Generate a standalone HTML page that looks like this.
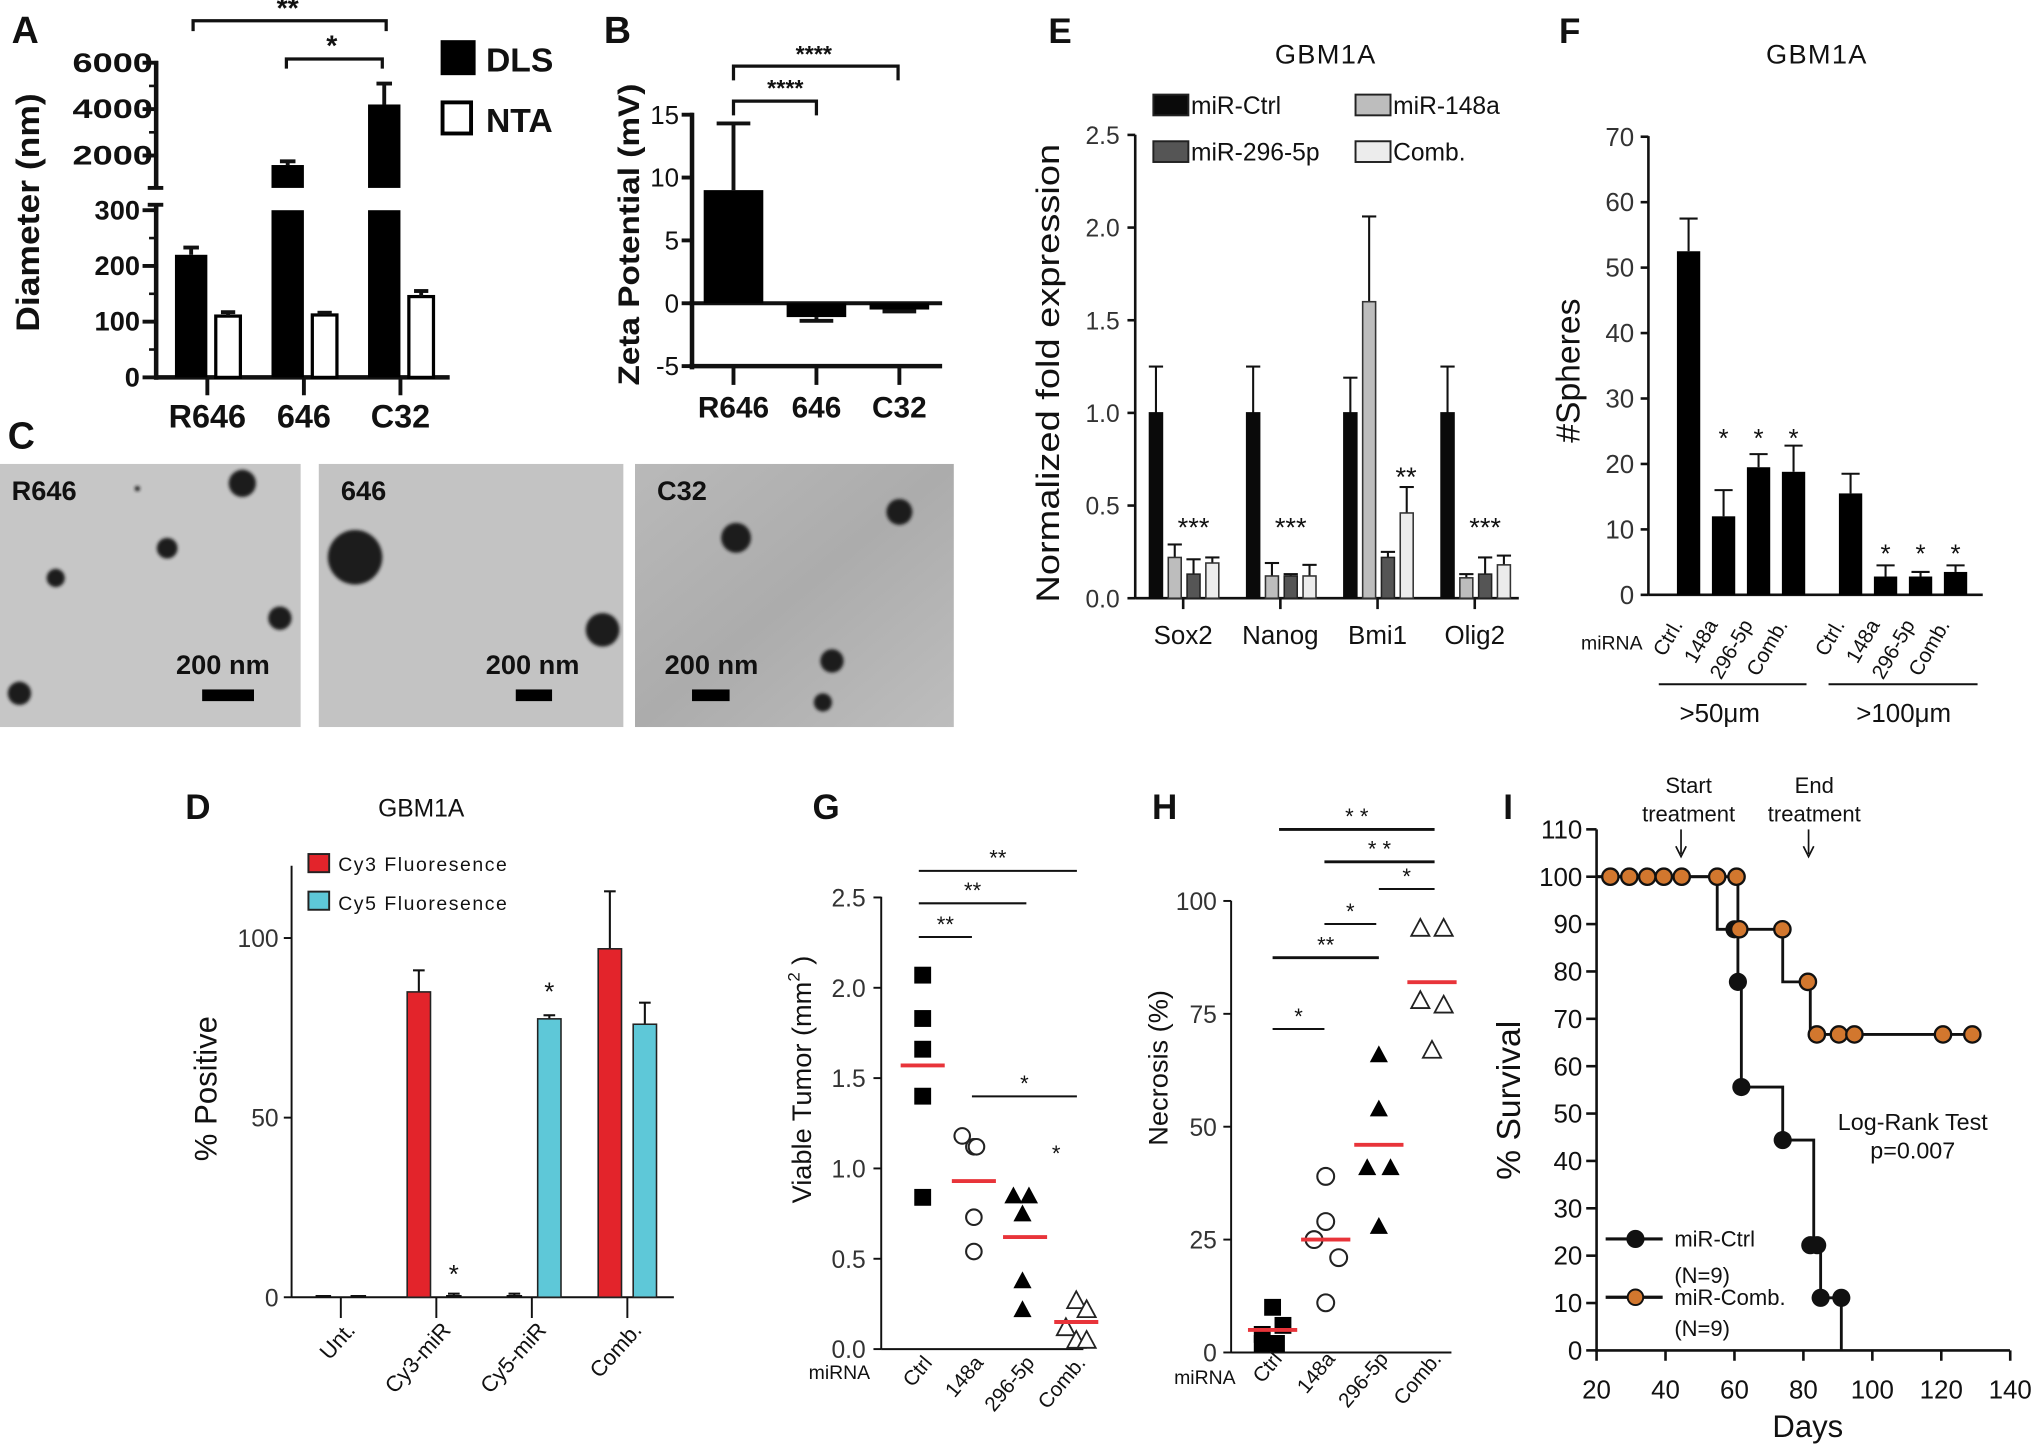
<!DOCTYPE html>
<html><head><meta charset="utf-8"><style>
html,body{margin:0;padding:0;background:#fff;}
svg{display:block;}
text{font-family:"Liberation Sans",Arial,sans-serif;fill:#111;}
</style></head>
<body>
<svg id="fig" width="2032" height="1445" viewBox="0 0 1568 1115" preserveAspectRatio="none" xmlns="http://www.w3.org/2000/svg">
<defs>
<filter id="soft" x="-50%" y="-50%" width="200%" height="200%"><feGaussianBlur stdDeviation="1.2"/></filter>
<linearGradient id="tem3" x1="0" y1="0" x2="1" y2="1"><stop offset="0" stop-color="#b9b9b9"/><stop offset="0.5" stop-color="#acacac"/><stop offset="1" stop-color="#bdbdbd"/></linearGradient>
</defs>
</svg>
<script>
// ---------- DATA ----------
const catsA = ['R646','646','C32'];
const dlsVals = [220,1590,4200];
const dlsErr = [233,1750,5100];
const ntaVals = [110,112,145];
const ntaErr = [117,116,155];

const catsB = ['R646','646','C32'];
const zetaVals = [9.0,-1.1,-0.5];
const zetaErr = [14.3,-1.4,-0.65];

const genesE = ['Sox2','Nanog','Bmi1','Olig2'];
const seriesE = ['miR-Ctrl','miR-148a','miR-296-5p','Comb.'];
const ctrlE = [1.0,1.0,1.0,1.0];
const ctrlEErr = [1.25,1.25,1.19,1.25];
const m148E = [0.22,0.12,1.6,0.11];
const m148EErr = [0.29,0.19,2.06,0.13];
const m296E = [0.13,0.12,0.22,0.13];
const m296EErr = [0.21,0.13,0.25,0.22];
const combE = [0.19,0.12,0.46,0.18];
const combEErr = [0.22,0.18,0.60,0.23];

const catsF = ['Ctrl.','148a','296-5p','Comb.','Ctrl.','148a','296-5p','Comb.'];
const spheres = [52.5,12,19.5,18.8,15.5,2.8,2.8,3.5];
const spheresErr = [57.5,16,21.5,22.8,18.5,4.5,3.5,4.5];

const catsD = ['Unt.','Cy3-miR','Cy5-miR','Comb.'];
const cy3Vals = [0,85,0,97];
const cy3Err = [0,91,1,113];
const cy5Vals = [0,0,77.5,76];
const cy5Err = [0,1,78.5,82];

const catsG = ['Ctrl','148a','296-5p','Comb.'];
const tumorCtrl = [2.07,1.83,1.66,1.40,0.84];
const tumor148 = [1.18,1.12,1.12,0.73,0.54];
const tumor296 = [0.85,0.85,0.75,0.38,0.22];
const tumorComb = [0.27,0.22,0.12,0.05,0.05];
const tumorMeans = [1.57,0.93,0.62,0.15];

const catsH = ['Ctrl','148a','296-5p','Comb.'];
const necCtrl = [10,6,4,2,2];
const nec148 = [39,29,25,21,11];
const nec296 = [66,54,41,41,28];
const necComb = [94,94,78,77,67];
const necMeans = [5,25,46,82];

const ctrlStepDays = [20,55,61,62,74,83,85,91];
const ctrlStepSurv = [100,88.9,77.8,55.6,44.4,22.2,11.1,0];
const ctrlDotDays = [60,61,62,74,82,84,85,91];
const ctrlDotSurv = [88.9,77.8,55.6,44.4,22.2,22.2,11.1,11.1];
const combStepDays = [20,61,74,82,129];
const combStepSurv = [100,88.9,77.8,66.7,66.7];
const combDotDays = [24,29.5,34.7,39.5,44.7,55,60.6,61.4,73.9,81.3,83.9,90.3,94.8,120.5,129];
const combDotSurv = [100,100,100,100,100,100,100,88.9,88.9,77.8,66.7,66.7,66.7,66.7,66.7];

// ---------- HELPERS ----------
const NS='http://www.w3.org/2000/svg';
const svg=document.getElementById('fig');
function add(parent,tag,attrs,name,text){
  const el=document.createElementNS(NS,tag);
  for(const k in attrs) el.setAttribute(k,attrs[k]);
  
  
  if(text!==undefined) el.textContent=text;
  parent.appendChild(el);
  return el;
}
function grp(name){return add(svg,'g',{},name);}
function line(p,x1,y1,x2,y2,w,name,col){return add(p,'line',{x1,y1,x2,y2,stroke:col||'#111','stroke-width':w},name);}
function txt(p,x,y,s,size,name,o){
  o=o||{};
  const a={x,y,'font-size':size,'text-anchor':o.anchor||'start'};
  if(o.bold)a['font-weight']='bold';
  if(o.rot!==undefined)a.transform='rotate('+o.rot+' '+x+' '+y+')';
  if(o.len)a.textLength=o.len,a.lengthAdjust='spacingAndGlyphs';
  if(o.fill)a.style='fill:'+o.fill;
  if(o.ls)a['letter-spacing']=o.ls;
  return add(p,'text',a,name,s);
}
function rect(p,x,y,w,h,fill,name,stroke,sw){
  const a={x,y:Math.min(y,y+h),width:w,height:Math.abs(h),fill};
  if(stroke){a.stroke=stroke;a['stroke-width']=sw||1;}
  return add(p,'rect',a,name);
}
function errbar(p,x,y0,y1,cap,w,name){
  const g=add(p,'g',{},name);
  line(g,x,y0,x,y1,w,'error-line');
  line(g,x-cap/2,y1,x+cap/2,y1,w,'error-cap');
}

// ---------- PANEL A ----------
(function(){
const g=grp('panel-a');
txt(g,9,33,'A',29,'panel-label-a',{bold:true});
const yLow=v=>291.2-v*0.43;
const yUp=v=>120-(v-2000)*0.0179;
const breakY=145, topLow=162.2;
const xA=i=>160+i*74.5;
line(g,120.5,293,120.5,158,3.5,'y-axis-lower');
line(g,120.5,145,120.5,47,3.5,'y-axis-upper');
line(g,114,145,126,145,3,'axis-break-top');
line(g,114,158,126,158,3,'axis-break-bottom');
[0,100,200,300].forEach(v=>{line(g,110,yLow(v),122,yLow(v),3,'y-tick');txt(g,108,yLow(v)+7,String(v),21,'y-tick-label',{anchor:'end',bold:true});});
[50,150,250].forEach(v=>line(g,115,yLow(v),121,yLow(v),2,'y-minor-tick'));
[2000,4000,6000].forEach(v=>{line(g,110,yUp(v),122,yUp(v),3,'y-tick');txt(g,118,yUp(v)+7,String(v),21,'y-tick-label',{anchor:'end',bold:true,len:62});});
[3000,5000].forEach(v=>line(g,115,yUp(v),121,yUp(v),2,'y-minor-tick'));
line(g,119,291.2,347,291.2,3.5,'x-axis');
catsA.forEach((c,i)=>{
  const x=xA(i);
  line(g,x,291,x,305,3,'x-tick');
  txt(g,x,330,c,25,'x-tick-label',{anchor:'middle',bold:true});
  const v=dlsVals[i],e=dlsErr[i];
  if(v<=300){
    rect(g,x-25,yLow(v),25,291.2-yLow(v),'#000','bar-dls-'+c);
    errbar(g,x-12.5,yLow(v),yLow(e),12,3,'error-dls-'+c);
  } else {
    rect(g,x-25,topLow,25,291.2-topLow,'#000','bar-dls-lower-'+c);
    rect(g,x-25,yUp(v),25,breakY-yUp(v),'#000','bar-dls-upper-'+c);
    errbar(g,x-12.5,yUp(v),yUp(e),12,3,'error-dls-'+c);
  }
  const n=ntaVals[i];
  rect(g,x+6.5,yLow(n),19,291.2-yLow(n),'#fff','bar-nta-'+c,'#000',2.5);
  errbar(g,x+16,yLow(n),yLow(ntaErr[i]),11,3,'error-nta-'+c);
});
const s1=add(g,'g',{},'sig-bracket-r646-c32');
add(s1,'path',{d:'M149 24 V16 H298 V24',fill:'none',stroke:'#111','stroke-width':2.5},'bracket');
txt(s1,222,14,'**',22,'sig-label',{anchor:'middle',bold:true});
const s2=add(g,'g',{},'sig-bracket-646-c32');
add(s2,'path',{d:'M221 53 V45.5 H295 V53',fill:'none',stroke:'#111','stroke-width':2.5},'bracket');
txt(s2,256,43,'*',22,'sig-label',{anchor:'middle',bold:true});
txt(g,30,164,'Diameter (nm)',25,'y-axis-title',{anchor:'middle',bold:true,rot:-90,len:184});
const l1=add(g,'g',{},'legend-entry-dls');
rect(l1,340,31,27,27,'#000','legend-swatch-dls');
txt(l1,375,55,'DLS',26,'legend-label-dls',{bold:true});
const l2=add(g,'g',{},'legend-entry-nta');
rect(l2,341.5,79,22,24,'#fff','legend-swatch-nta','#000',3);
txt(l2,375,102,'NTA',26,'legend-label-nta',{bold:true});
})();

// ---------- PANEL B ----------
(function(){
const g=grp('panel-b');
txt(g,466,33,'B',29,'panel-label-b',{bold:true});
const yB=v=>234-v*9.7;
const xB=i=>566+i*64;
line(g,534,87,534,285,3.5,'y-axis');
[15,10,5,0,-5].forEach(v=>{line(g,526,yB(v),535,yB(v),3,'y-tick');txt(g,524,yB(v)+7,String(v),20,'y-tick-label',{anchor:'end'});});
line(g,532,yB(0),727,yB(0),3,'zero-line');
line(g,532,yB(-5),727,yB(-5),3.5,'x-axis');
catsB.forEach((c,i)=>{
  const x=xB(i);
  line(g,x,yB(-5),x,297,3,'x-tick');
  txt(g,x,322,c,23,'x-tick-label',{anchor:'middle',bold:true});
  const v=zetaVals[i];
  rect(g,x-23,yB(v),46,yB(0)-yB(v),'#000','bar-zeta-'+c);
  errbar(g,x,yB(v),yB(zetaErr[i]),26,3,'error-zeta-'+c);
});
const s1=add(g,'g',{},'sig-bracket-r646-c32');
add(s1,'path',{d:'M566 62 V51 H693 V62',fill:'none',stroke:'#111','stroke-width':2.5},'bracket');
txt(s1,628,48,'****',18,'sig-label',{anchor:'middle',bold:true});
const s2=add(g,'g',{},'sig-bracket-r646-646');
add(s2,'path',{d:'M566 89 V78 H630 V89',fill:'none',stroke:'#111','stroke-width':2.5},'bracket');
txt(s2,606,74,'****',18,'sig-label',{anchor:'middle',bold:true});
txt(g,493,181,'Zeta Potential (mV)',23,'y-axis-title',{anchor:'middle',bold:true,rot:-90,len:233});
})();

// ---------- PANEL C ----------
(function(){
const g=grp('panel-c');
txt(g,6,346,'C',29,'panel-label-c',{bold:true});
const imgs=[
 {x:0,w:232,fill:'#c6c6c6',label:'R646',dots:[[187,373,10.5],[129,423,8],[43,446,7],[216,477,9],[15,535,9],[106,377,2]],bar:[156,196],tx:172},
 {x:246,w:235,fill:'#c3c3c3',label:'646',dots:[[274,430,21],[465,486,13]],bar:[398,426],tx:411},
 {x:490,w:246,fill:'url(#tem3)',label:'C32',dots:[[568,415,11.5],[694,395,10],[642,510,9],[635,542,7]],bar:[534,563],tx:549}
];
imgs.forEach((m,i)=>{
  const ig=add(g,'g',{},'tem-image-'+m.label);
  rect(ig,m.x,358,m.w,203,m.fill,'tem-background');
  m.dots.forEach(d=>add(ig,'circle',{cx:d[0],cy:d[1],r:d[2],fill:'#1a1a1a',filter:'url(#soft)'},'nanoparticle'));
  txt(ig,m.x+(i==0?9:i==1?17:17),386,m.label,21,'tem-label',{bold:true});
  txt(ig,m.tx,520,'200 nm',21,'scale-bar-label',{anchor:'middle',bold:true});
  rect(ig,m.bar[0],532,m.bar[1]-m.bar[0],9,'#000','scale-bar');
});
})();

// ---------- PANEL E ----------
(function(){
const g=grp('panel-e');
txt(g,809,33,'E',27,'panel-label-e',{bold:true});
txt(g,1023,49,'GBM1A',21,'chart-title-e',{anchor:'middle',ls:1});
const yE=v=>461.6-v*143;
const xE=gi=>913+gi*75;
line(g,876,104,876,462,2,'y-axis');
[0,0.5,1,1.5,2,2.5].forEach(v=>{line(g,870,yE(v),876,yE(v),2,'y-tick');txt(g,864,yE(v)+7,v.toFixed(1),19,'y-tick-label',{anchor:'end',fill:'#333'});});
line(g,876,461.6,1172,461.6,2,'x-axis');
const series=[[ctrlE,ctrlEErr,'#0a0a0a','#0a0a0a'],[m148E,m148EErr,'#bdbdbd','#333'],[m296E,m296EErr,'#555','#222'],[combE,combEErr,'#ececec','#333']];
const offs=[-21,-6.5,8,22.5];
genesE.forEach((gn,gi)=>{
  const c=xE(gi);
  line(g,c,461.6,c,470,2,'x-tick');
  txt(g,c,497,gn,20,'x-tick-label',{anchor:'middle'});
  series.forEach((s,si)=>{
    const x=c+offs[si];
    errbar(g,x,yE(s[0][gi]),yE(s[1][gi]),11,1.6,'error-'+seriesE[si]+'-'+gn);
    rect(g,x-5,yE(s[0][gi]),10,461.6-yE(s[0][gi]),s[2],'bar-'+seriesE[si]+'-'+gn,s[3],1.2);
  });
});
[0,1,3].forEach(gi=>txt(g,xE(gi)+8,414,'***',21,'sig-label',{anchor:'middle'}));
txt(g,xE(2)+22,375,'**',21,'sig-label',{anchor:'middle'});
const lg=[[890,88,'#0a0a0a','miR-Ctrl'],[1046,88,'#bdbdbd','miR-148a'],[890,124,'#555','miR-296-5p'],[1046,124,'#ececec','Comb.']];
lg.forEach(l=>{
  const e=add(g,'g',{},'legend-entry-'+l[3]);
  rect(e,l[0],l[1]-15,27,16,l[2],'legend-swatch','#222',1.5);
  txt(e,l[0]+29,l[1],l[3],19,'legend-label');
});
txt(g,817,288,'Normalized fold expression',25,'y-axis-title',{anchor:'middle',rot:-90,len:354});
})();

// ---------- PANEL F ----------
(function(){
const g=grp('panel-f');
txt(g,1203,33,'F',27,'panel-label-f',{bold:true});
txt(g,1402,49,'GBM1A',21,'chart-title-f',{anchor:'middle',ls:1});
const yF=v=>459-v*5.05;
const xF=i=>1303+i*27+(i>=4?17:0);
line(g,1272,105,1272,459,2,'y-axis');
[0,10,20,30,40,50,60,70].forEach(v=>{line(g,1266,yF(v),1272,yF(v),2,'y-tick');txt(g,1261,yF(v)+7,String(v),20,'y-tick-label',{anchor:'end',fill:'#333'});});
line(g,1272,459,1530,459,2,'x-axis');
catsF.forEach((c,i)=>{
  const x=xF(i);
  errbar(g,x,yF(spheres[i]),yF(spheresErr[i]),14,1.6,'error-spheres-'+i);
  rect(g,x-9,yF(spheres[i]),18,459-yF(spheres[i]),'#000','bar-spheres-'+c+'-'+i);
  txt(g,x-4,482,c,16,'x-tick-label',{anchor:'end',rot:-60});
});
[1,2,3].forEach(i=>txt(g,xF(i),345,'*',20,'sig-label',{anchor:'middle'}));
[5,6,7].forEach(i=>txt(g,xF(i),434,'*',20,'sig-label',{anchor:'middle'}));
txt(g,1220,501,'miRNA',15,'x-axis-title');
line(g,1280,528,1394,528,1.5,'group-line-50um');
line(g,1411,528,1526,528,1.5,'group-line-100um');
txt(g,1327,557,'>50\u03bcm',20,'group-label-50um',{anchor:'middle'});
txt(g,1469,557,'>100\u03bcm',20,'group-label-100um',{anchor:'middle'});
txt(g,1219,286,'#Spheres',26,'y-axis-title',{anchor:'middle',rot:-90});
})();

// ---------- PANEL D ----------
(function(){
const g=grp('panel-d');
txt(g,143,632,'D',27,'panel-label-d',{bold:true});
txt(g,325,630,'GBM1A',19,'chart-title-d',{anchor:'middle'});
const yD=v=>1001-v*2.772;
const xD=i=>263+i*73.7;
line(g,225,668,225,1001,1.5,'y-axis');
[0,50,100].forEach(v=>{line(g,219,yD(v),225,yD(v),1.5,'y-tick');txt(g,215,yD(v)+7,String(v),19,'y-tick-label',{anchor:'end',fill:'#333'});});
line(g,225,1001,520,1001,1.5,'x-axis');
catsD.forEach((c,i)=>{
  const x=xD(i);
  line(g,x,1001,x,1017,1.5,'x-tick');
  txt(g,x+12,1027,c,17,'x-tick-label',{anchor:'end',rot:-48});
  const xr=x-13.5, xc=x+13.5;
  if(cy3Err[i]>0) errbar(g,xr,yD(cy3Vals[i]),yD(cy3Err[i]),9,1.6,'error-cy3-'+c);
  if(cy5Err[i]>0) errbar(g,xc,yD(cy5Vals[i]),yD(cy5Err[i]),9,1.6,'error-cy5-'+c);
  if(cy3Vals[i]>0) rect(g,xr-9,yD(cy3Vals[i]),18,1001-yD(cy3Vals[i]),'#e3242b','bar-cy3-'+c,'#222',1.2);
  else line(g,xr-6,1000,xr+6,1000,1.5,'bar-cy3-'+c);
  if(cy5Vals[i]>0) rect(g,xc-9,yD(cy5Vals[i]),18,1001-yD(cy5Vals[i]),'#5ec8d8','bar-cy5-'+c,'#222',1.2);
  else line(g,xc-6,1000,xc+6,1000,1.5,'bar-cy5-'+c);
});
txt(g,xD(1)+13.5,990,'*',20,'sig-label',{anchor:'middle'});
txt(g,xD(2)+13.5,772,'*',20,'sig-label',{anchor:'middle'});
const l1=add(g,'g',{},'legend-entry-cy3');
rect(l1,238,659,16,14,'#e3242b','legend-swatch-cy3','#222',1.5);
txt(l1,261,672,'Cy3 Fluoresence',15,'legend-label-cy3',{ls:1.2});
const l2=add(g,'g',{},'legend-entry-cy5');
rect(l2,238,688,16,14,'#5ec8d8','legend-swatch-cy5','#222',1.5);
txt(l2,261,702,'Cy5 Fluoresence',15,'legend-label-cy5',{ls:1.2});
txt(g,167,840,'% Positive',24,'y-axis-title',{anchor:'middle',rot:-90});
})();

// ---------- PANEL G ----------
(function(){
const g=grp('panel-g');
txt(g,627,632,'G',27,'panel-label-g',{bold:true});
const yG=v=>1041-v*139.4;
const xG=i=>712+i*39.5;
line(g,680,692,680,1041,1.5,'y-axis');
[0,0.5,1,1.5,2,2.5].forEach(v=>{line(g,674,yG(v),680,yG(v),1.5,'y-tick');txt(g,668,yG(v)+7,v.toFixed(1),19,'y-tick-label',{anchor:'end',fill:'#333'});});
line(g,680,1041,836,1041,1.5,'x-axis');
const sets=[tumorCtrl,tumor148,tumor296,tumorComb];
const jit=[[0,0,0,0,0],[-9,0,2,0,0],[-9,3,-2,-2,-2],[0,8,-8,0,8]];
sets.forEach((s,gi)=>{
  const c=xG(gi);
  s.forEach((v,k)=>{
    const x=c+jit[gi][k], y=yG(v);
    let el;
    if(gi==0) el=rect(g,x-6.5,y-6.5,13,13,'#000','point-ctrl');
    else if(gi==1) el=add(g,'circle',{cx:x,cy:y,r:6,fill:'#fff',stroke:'#222','stroke-width':1.6},'point-148a');
    else if(gi==2) el=add(g,'path',{d:`M${x} ${y-7} L${x+7} ${y+6} L${x-7} ${y+6}Z`,fill:'#000'},'point-296-5p');
    else el=add(g,'path',{d:`M${x} ${y-7} L${x+7} ${y+6} L${x-7} ${y+6}Z`,fill:'#fff',stroke:'#222','stroke-width':1.4},'point-comb');
  });
  line(g,c-17,yG(tumorMeans[gi]),c+17,yG(tumorMeans[gi]),3,'mean-line-'+catsG[gi],'#e8343a');
  txt(g,c+8,1052,catsG[gi],16,'x-tick-label',{anchor:'end',rot:-50});
});
const sig=[[709,831,672,'**'],[709,792,697,'**'],[709,750,723,'**'],[750,831,846,'*']];
sig.forEach(s=>{line(g,s[0],s[2],s[1],s[2],1.6,'sig-line');txt(g,(s[0]+s[1])/2,s[2]-4,s[3],17,'sig-label',{anchor:'middle'});});
txt(g,815,896,'*',17,'sig-label',{anchor:'middle'});
txt(g,624,1064,'miRNA',15,'x-axis-title');
const t=txt(g,626,833,'Viable Tumor  (mm',21,'y-axis-title',{anchor:'middle',rot:-90});
add(t,'tspan',{dy:-9,'font-size':13},'superscript','2');
add(t,'tspan',{dy:9},'paren',' )');
})();

// ---------- PANEL H ----------
(function(){
const g=grp('panel-h');
txt(g,889,632,'H',27,'panel-label-h',{bold:true});
const yH=v=>1043.6-v*3.484;
const xH=i=>982+i*41;
line(g,950,695,950,1044,1.5,'y-axis');
[0,25,50,75,100].forEach(v=>{line(g,944,yH(v),950,yH(v),1.5,'y-tick');txt(g,939,yH(v)+7,String(v),19,'y-tick-label',{anchor:'end',fill:'#333'});});
line(g,950,1043.6,1120,1043.6,1.5,'x-axis');
const sets=[necCtrl,nec148,nec296,necComb];
const jit=[[0,8,-8,-8,3],[0,0,-9,10,0],[0,0,-9,9,0],[-9,9,-9,9,0]];
sets.forEach((s,gi)=>{
  const c=xH(gi);
  s.forEach((v,k)=>{
    const x=c+jit[gi][k], y=yH(v);
    if(gi==0) rect(g,x-6.5,y-6.5,13,13,'#000','point-ctrl');
    else if(gi==1) add(g,'circle',{cx:x,cy:y,r:6.5,fill:'#fff',stroke:'#222','stroke-width':1.6},'point-148a');
    else if(gi==2) add(g,'path',{d:`M${x} ${y-7} L${x+7} ${y+6} L${x-7} ${y+6}Z`,fill:'#000'},'point-296-5p');
    else add(g,'path',{d:`M${x} ${y-7} L${x+7} ${y+6} L${x-7} ${y+6}Z`,fill:'#fff',stroke:'#222','stroke-width':1.4},'point-comb');
  });
  line(g,c-19,yH(necMeans[gi]),c+19,yH(necMeans[gi]),3,'mean-line-'+catsH[gi],'#e8343a');
  txt(g,c+8,1049,catsH[gi],16,'x-tick-label',{anchor:'end',rot:-50});
});
const sig=[[987,1107,640,'* *'],[1022,1107,665,'* *'],[1064,1107,686,'*'],[1022,1062,713,'*'],[982,1064,739,'**'],[982,1022,794,'*']];
sig.forEach((s,i)=>{line(g,s[0],s[2],s[1],s[2],i<2||i==4?2.2:1.5,'sig-line');txt(g,(s[0]+s[1])/2,s[2]-4,s[3],17,'sig-label',{anchor:'middle'});});
txt(g,906,1068,'miRNA',15,'x-axis-title');
txt(g,901,824,'Necrosis (%)',21,'y-axis-title',{anchor:'middle',rot:-90});
})();

// ---------- PANEL I ----------
(function(){
const g=grp('panel-i');
txt(g,1160,632,'I',27,'panel-label-i',{bold:true});
const xI=d=>1232+(d-20)*2.66;
const yI=p=>1042-p*3.655;
line(g,1232,640,1232,1043,2,'y-axis');
for(let v=0;v<=110;v+=10){line(g,1224,yI(v),1232,yI(v),2,'y-tick');txt(g,1221,yI(v)+7,String(v),20,'y-tick-label',{anchor:'end'});}
line(g,1231,1042,1551,1042,2,'x-axis');
for(let d=20;d<=140;d+=20){line(g,xI(d),1042,xI(d),1050,2,'x-tick');txt(g,xI(d),1079,String(d),20,'x-tick-label',{anchor:'middle'});}
txt(g,1395,1109,'Days',24,'x-axis-title',{anchor:'middle'});
txt(g,1173,849,'% Survival',26,'y-axis-title',{anchor:'middle',rot:-90});
function steps(days,surv){let d='M'+xI(days[0])+' '+yI(surv[0]);for(let i=1;i<days.length;i++){d+=' H'+xI(days[i])+' V'+yI(surv[i]);}return d;}
add(g,'path',{d:steps(combStepDays,combStepSurv),fill:'none',stroke:'#111','stroke-width':2.2},'survival-line-comb');
add(g,'path',{d:steps(ctrlStepDays,ctrlStepSurv),fill:'none',stroke:'#111','stroke-width':2.2},'survival-line-ctrl');
ctrlDotDays.forEach((d,i)=>add(g,'circle',{cx:xI(d),cy:yI(ctrlDotSurv[i]),r:7,fill:'#111'},'point-ctrl'));
combDotDays.forEach((d,i)=>add(g,'circle',{cx:xI(d),cy:yI(combDotSurv[i]),r:6.3,fill:'#d2772e',stroke:'#111','stroke-width':1.8},'point-comb'));
txt(g,1303,612,'Start',17,'annotation-start',{anchor:'middle'});
txt(g,1303,634,'treatment',17,'annotation-start',{anchor:'middle'});
txt(g,1400,612,'End',17,'annotation-end',{anchor:'middle'});
txt(g,1400,634,'treatment',17,'annotation-end',{anchor:'middle'});
[xI(44.5),xI(81.5)].forEach(x=>{const a=add(g,'g',{},'treatment-arrow');line(a,x,640,x,659,1.3,'arrow-shaft');add(a,'path',{d:`M${x-4} ${653} L${x} ${661} L${x+4} ${653}`,fill:'none',stroke:'#111','stroke-width':1.3},'arrow-head');});
txt(g,1476,872,'Log-Rank Test',18,'stat-label',{anchor:'middle'});
txt(g,1476,894,'p=0.007',18,'stat-value',{anchor:'middle'});
const l1=add(g,'g',{},'legend-entry-ctrl');
line(l1,1239,956,1283,956,2.5,'legend-line');
add(l1,'circle',{cx:1262,cy:956,r:7,fill:'#111'},'legend-marker');
txt(l1,1292,962,'miR-Ctrl',17,'legend-label');
txt(l1,1292,990,'(N=9)',17,'legend-label');
const l2=add(g,'g',{},'legend-entry-comb');
line(l2,1239,1001,1283,1001,2.5,'legend-line');
add(l2,'circle',{cx:1262,cy:1001,r:6,fill:'#d2772e',stroke:'#111','stroke-width':1.5},'legend-marker');
txt(l2,1292,1007,'miR-Comb.',17,'legend-label');
txt(l2,1292,1031,'(N=9)',17,'legend-label');
})();
</script>
</body></html>
